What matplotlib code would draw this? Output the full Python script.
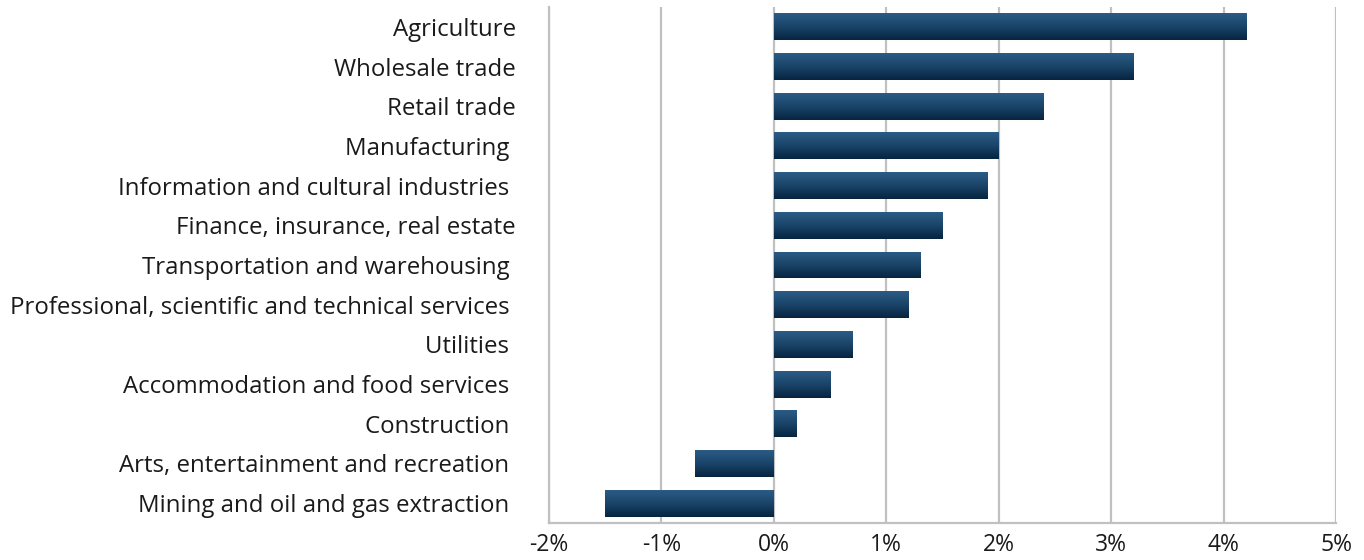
import numpy as np
import matplotlib.pyplot as plt
from matplotlib.colors import LinearSegmentedColormap

# --- data --------------------------------------------------------------------
industries = ['Agriculture', 'Wholesale trade', 'Retail trade', 'Manufacturing ',
              'Information and cultural industries ',
              'Finance, insurance, real estate',
              'Transportation and warehousing ',
              'Professional, scientific and technical services ',
              'Utilities ', 'Accommodation and food services ',
              'Construction ', 'Arts, entertainment and recreation ',
              'Mining and oil and gas extraction ']
growth = [4.2, 3.2, 2.4, 2.0, 1.9, 1.5, 1.3, 1.2, 0.7, 0.5, 0.2, -0.7, -1.5]
xTicks = [-2, -1, 0, 1, 2, 3, 4, 5]

# --- style -------------------------------------------------------------------
plt.rcParams['font.family'] = ['Open Sans', 'DejaVu Sans']
colGrid = '#c0c0c0'
cmapBar = LinearSegmentedColormap.from_list('bar', ['#062440', '#1a4468', '#2b5c87'])

fig = plt.figure(figsize=(13.64, 5.6), dpi=100)
ax = fig.add_axes([549 / 1364, 37 / 560, 787 / 1364, 516 / 560])

yPos = np.arange(len(industries))
bars = ax.barh(yPos, growth, height=0.68, color='none', zorder=3)

# vertical gradient fill (light top, dark bottom), clipped to each bar
grad = np.linspace(0, 1, 256).reshape(-1, 1)
for b in bars:
    x0, y0 = b.get_x(), b.get_y()
    w, h = b.get_width(), b.get_height()
    im = ax.imshow(grad, cmap=cmapBar, aspect='auto', zorder=3,
                   extent=[x0, x0 + w, y0 + h, y0], origin='lower')
    im.set_clip_path(b)

ax.set_xlim(-2, 5)
ax.set_ylim(len(industries) - 0.5, -0.5)
ax.set_xticks(xTicks)
ax.set_xticklabels(['%d%%' % t for t in xTicks])
ax.set_yticks(yPos)
ax.set_yticklabels(industries)

ax.grid(axis='x', color=colGrid, lw=1.6, zorder=0)
for s in ['top', 'right']:
    ax.spines[s].set_visible(False)
for s in ['left', 'bottom']:
    ax.spines[s].set_color(colGrid)
    ax.spines[s].set_linewidth(1.6)
ax.tick_params(axis='y', length=0, pad=24, labelsize=17.3, labelcolor='#1a1a1a')
ax.tick_params(axis='x', length=0, pad=7, labelsize=16.5, labelcolor='#1a1a1a')

plt.savefig('out.png', dpi=100)
